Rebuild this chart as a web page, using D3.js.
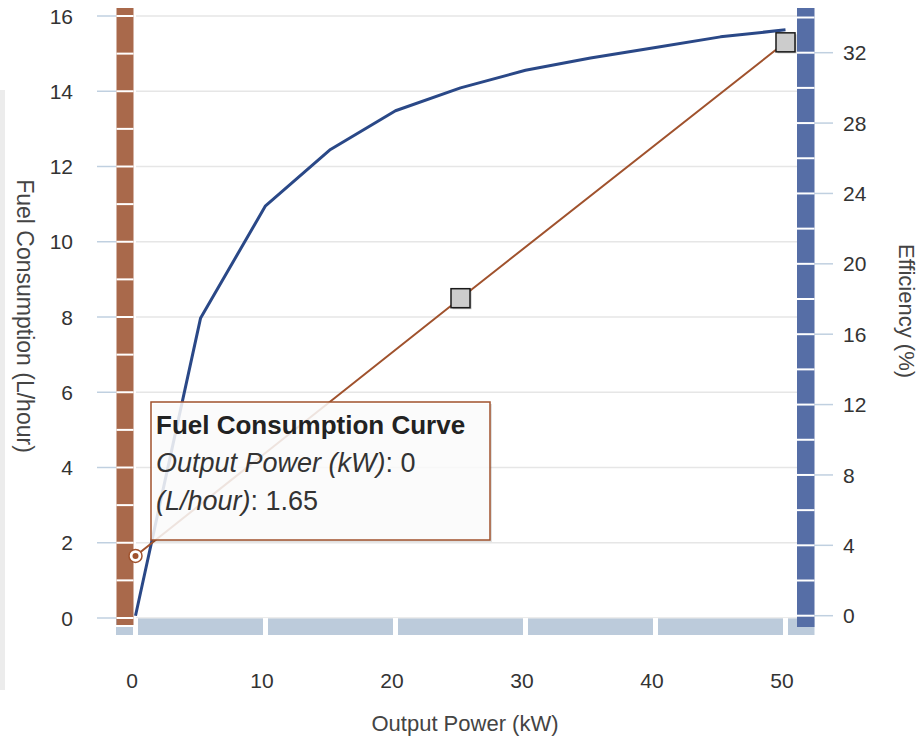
<!DOCTYPE html>
<html>
<head>
<meta charset="utf-8">
<script src="https://cdn.jsdelivr.net/npm/d3@7"></script>
<style>
  body { margin: 0; background: #fff; }
  svg { font-family: "Liberation Sans", Arial, sans-serif; display: block; }
</style>
</head>
<body>
<svg id="svg"></svg>
<script>
// Fuel consumption + efficiency chart

const width = 920;
const height = 736;

// data
const powerTicks = [0, 10, 20, 30, 40, 50];
const fuelTicks = [0, 2, 4, 6, 8, 10, 12, 14, 16];
const effTicks = [0, 4, 8, 12, 16, 20, 24, 28, 32];

const fuelPower = [0, 25, 50];
const fuelValues = [1.65, 8.5, 15.3];

const effPower = [0, 5, 10, 15, 20, 25, 30, 35, 40, 45, 50];
const effValues = [0, 16.9, 23.3, 26.5, 28.7, 30.0, 31.0, 31.7, 32.3, 32.9, 33.3];

const hoverIndex = 0;

const fuelData = fuelPower.map((p, i) => ({ power: p, value: fuelValues[i] }));
const effData = effPower.map((p, i) => ({ power: p, value: effValues[i] }));

const brown = "#a0522d";
const brownBar = "#a9694b";
const navy = "#2a4887";
const blueBar = "#566ea6";
const band = "#bccbdb";

const svg = d3.select("#svg").attr("width", width).attr("height", height);

const x = d3.scaleLinear().domain([0, 50]).range([135.5, 785.5]);
const yL = d3.scaleLinear().domain([0, 16]).range([618, 16]);
const yR = d3.scaleLinear().domain([0, 32]).range([615.7, 52.7]);

// faint strip at left edge
svg.append("rect")
    .attr("x", 0).attr("y", 90)
    .attr("width", 5).attr("height", 600)
    .attr("fill", "#ececec");

// gridlines (left axis only)
svg.append("g")
    .selectAll("line")
    .data(fuelTicks)
    .join("line")
    .attr("x1", 136).attr("x2", 797)
    .attr("y1", (d) => yL(d)).attr("y2", (d) => yL(d))
    .attr("stroke", "#e6e6e6")
    .attr("stroke-width", 1.5);

// x band with gaps at ticks
svg.append("rect")
    .attr("x", 116).attr("y", 618.5)
    .attr("width", 698.5).attr("height", 16.5)
    .attr("fill", band);

svg.append("g")
    .selectAll("rect")
    .data(powerTicks)
    .join("rect")
    .attr("x", (d) => x(d) - 2.5)
    .attr("y", 618)
    .attr("width", 5)
    .attr("height", 18)
    .attr("fill", "#fff");

// left brown bar
svg.append("rect")
    .attr("x", 116.5).attr("y", 8)
    .attr("width", 17).attr("height", 617)
    .attr("fill", brownBar);

svg.append("g")
    .selectAll("line")
    .data(d3.range(0, 17))
    .join("line")
    .attr("x1", 116.5).attr("x2", 133.5)
    .attr("y1", (d) => yL(d)).attr("y2", (d) => yL(d))
    .attr("stroke", "#fff")
    .attr("stroke-width", 2);

svg.append("line")
    .attr("x1", 116).attr("x2", 134)
    .attr("y1", 626).attr("y2", 626)
    .attr("stroke", "#fff").attr("stroke-width", 2);

// right blue bar
svg.append("rect")
    .attr("x", 797).attr("y", 8)
    .attr("width", 17.5).attr("height", 619)
    .attr("fill", blueBar);

svg.append("g")
    .selectAll("line")
    .data(d3.range(0, 35, 2))
    .join("line")
    .attr("x1", 797).attr("x2", 814.5)
    .attr("y1", (d) => yR(d)).attr("y2", (d) => yR(d))
    .attr("stroke", "#fff")
    .attr("stroke-width", 2);

// left axis ticks + labels
let gLeft = svg.append("g");
gLeft.selectAll("line")
    .data(fuelTicks)
    .join("line")
    .attr("x1", 97).attr("x2", 116)
    .attr("y1", (d) => yL(d)).attr("y2", (d) => yL(d))
    .attr("stroke", "#c0d0e0")
    .attr("stroke-width", 1.5);
gLeft.selectAll("text")
    .data(fuelTicks)
    .join("text")
    .attr("x", 73)
    .attr("y", (d) => yL(d))
    .attr("dy", "0.36em")
    .attr("text-anchor", "end")
    .attr("fill", "#333")
    .style("font-size", "21px")
    .text((d) => d);

// right axis ticks + labels
let gRight = svg.append("g");
gRight.selectAll("line")
    .data(effTicks)
    .join("line")
    .attr("x1", 814.5).attr("x2", 833)
    .attr("y1", (d) => yR(d)).attr("y2", (d) => yR(d))
    .attr("stroke", "#c0d0e0")
    .attr("stroke-width", 1.5);
gRight.selectAll("text")
    .data(effTicks)
    .join("text")
    .attr("x", 843)
    .attr("y", (d) => yR(d))
    .attr("dy", "0.36em")
    .attr("fill", "#333")
    .style("font-size", "21px")
    .text((d) => d);

// x axis labels
svg.append("g")
    .selectAll("text")
    .data(powerTicks)
    .join("text")
    .attr("x", (d) => x(d) - 3.5)
    .attr("y", 688)
    .attr("text-anchor", "middle")
    .attr("fill", "#333")
    .style("font-size", "21px")
    .text((d) => d);

// axis titles
svg.append("text")
    .attr("transform", "translate(17,316) rotate(90)")
    .attr("text-anchor", "middle")
    .attr("fill", "#444")
    .style("font-size", "23px")
    .text("Fuel Consumption (L/hour)");

svg.append("text")
    .attr("transform", "translate(899,311) rotate(90)")
    .attr("text-anchor", "middle")
    .attr("fill", "#444")
    .style("font-size", "22px")
    .text("Efficiency (%)");

svg.append("text")
    .attr("x", 465)
    .attr("y", 731)
    .attr("text-anchor", "middle")
    .attr("fill", "#444")
    .style("font-size", "22px")
    .text("Output Power (kW)");

// lines
const effLine = d3.line().x((d) => x(d.power)).y((d) => yR(d.value));
const fuelLine = d3.line().x((d) => x(d.power)).y((d) => yL(d.value));

svg.append("path")
    .datum(effData)
    .attr("d", effLine)
    .attr("fill", "none")
    .attr("stroke", navy)
    .attr("stroke-width", 3)
    .attr("stroke-linejoin", "round");

svg.append("path")
    .datum(fuelData)
    .attr("d", fuelLine)
    .attr("fill", "none")
    .attr("stroke", brown)
    .attr("stroke-width", 2);

// square markers (skip hovered point)
let markerData = fuelData.filter((d, i) => i !== hoverIndex);
let gMarkers = svg.append("g");
gMarkers.selectAll("rect.shadow")
    .data(markerData)
    .join("rect")
    .attr("class", "shadow")
    .attr("x", (d) => x(d.power) - 8)
    .attr("y", (d) => yL(d.value) - 8)
    .attr("width", 19).attr("height", 19)
    .attr("fill", "rgba(0,0,0,0.25)");
gMarkers.selectAll("rect.marker")
    .data(markerData)
    .join("rect")
    .attr("class", "marker")
    .attr("x", (d) => x(d.power) - 9.5)
    .attr("y", (d) => yL(d.value) - 9.5)
    .attr("width", 19).attr("height", 19)
    .attr("fill", "#cccccc")
    .attr("stroke", "#1a1a1a")
    .attr("stroke-width", 1.5);

// hovered point
let hover = fuelData[hoverIndex];
svg.append("circle")
    .attr("cx", x(hover.power))
    .attr("cy", yL(hover.value))
    .attr("r", 6.5)
    .attr("fill", "#fff")
    .attr("stroke", brown)
    .attr("stroke-width", 1.5);
svg.append("circle")
    .attr("cx", x(hover.power))
    .attr("cy", yL(hover.value))
    .attr("r", 3)
    .attr("fill", brown);

// tooltip
let gTip = svg.append("g").attr("transform", "translate(151,402)");
gTip.append("rect")
    .attr("x", 2).attr("y", 2)
    .attr("width", 339).attr("height", 138)
    .attr("fill", "rgba(0,0,0,0.12)");
gTip.append("rect")
    .attr("width", 339).attr("height", 138)
    .attr("fill", "rgba(255,255,255,0.85)")
    .attr("stroke", brown)
    .attr("stroke-width", 1.5);

gTip.append("text")
    .attr("x", 5).attr("y", 32)
    .attr("fill", "#222")
    .style("font-size", "26px")
    .style("font-weight", "bold")
    .text("Fuel Consumption Curve");

let line2 = gTip.append("text")
    .attr("x", 5).attr("y", 70)
    .attr("fill", "#333")
    .style("font-size", "27px");
line2.append("tspan").style("font-style", "italic").text("Output Power (kW)");
line2.append("tspan").text(": " + hover.power);

let line3 = gTip.append("text")
    .attr("x", 5).attr("y", 108)
    .attr("fill", "#333")
    .style("font-size", "27px");
line3.append("tspan").style("font-style", "italic").text("(L/hour)");
line3.append("tspan").text(": " + hover.value);
</script>
</body>
</html>
